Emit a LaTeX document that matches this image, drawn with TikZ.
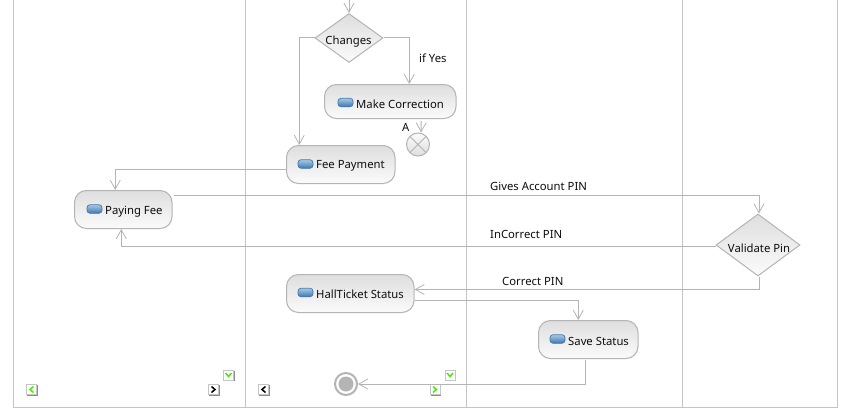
\documentclass[tikz,border=0pt]{standalone}
\usepackage{fontspec}
\setmainfont{Noto Sans}
\usetikzlibrary{arrows.meta,shapes.geometric}
\definecolor{linegray}{HTML}{B4B4B4}
\definecolor{lanegray}{HTML}{C4C4C4}
\definecolor{boxtop}{HTML}{DEDEDE}
\definecolor{boxbot}{HTML}{FBFBFB}
\definecolor{icontop}{HTML}{A9C8E4}
\definecolor{iconbot}{HTML}{3F78AE}
\definecolor{chevgreen}{HTML}{44EE00}
\tikzset{
  every node/.style={font=\fontsize{11.3}{13}\selectfont,text=black!95,inner sep=0pt},
  lane/.style={draw=lanegray,line width=1pt},
  flow/.style={draw=linegray,line width=1pt,-{Straight Barb[length=9pt,width=10pt,line width=.8pt]}},
  action/.style={draw=linegray,line width=1pt,rounded corners=12pt,top color=boxtop,bottom color=boxbot,anchor=north west},
  decision/.style={diamond,aspect=1.36,draw=linegray,line width=1pt,top color=boxtop,bottom color=boxbot,inner sep=0pt},
  icon/.style={rectangle,rounded corners=3pt,draw=iconbot,line width=.7pt,minimum width=15pt,minimum height=8.5pt,top color=icontop,bottom color=iconbot},
  lbl/.style={anchor=west},
  btn/.style={rectangle,draw=lanegray,fill=white,line width=.8pt,minimum size=10pt},
  chev/.style={line width=1.5pt}
}
\newcommand{\btnbox}[4]{%
  \fill[black!45] (#1-4.5,#2-4.5) rectangle (#1+6,#2+6);
  \node[btn] (#3) at (#1,#2) {};
  \draw[chev,#4]}
\begin{document}
\begin{tikzpicture}[x=1pt,y=-1pt]
\useasboundingbox (0,0) rectangle (867,420);
\fill[white] (0,0) rectangle (867,420);
% swimlanes
\draw[lane] (13,0) -- (13,407) -- (837,407) -- (837,0);
\draw[lane] (245,0) -- (245,407);
\draw[lane] (466,0) -- (466,407);
\draw[lane] (682.7,0) -- (682.7,407);
% nav buttons
\btnbox{228.5}{375}{b1}{chevgreen} (225.5,373) -- (228.5,376.5) -- (231.5,373);
\btnbox{31.5}{389.5}{b2}{chevgreen} (33.5,386.5) -- (30,389.5) -- (33.5,392.5);
\btnbox{213.5}{389.5}{b3}{black} (211.5,386.5) -- (215,389.5) -- (211.5,392.5);
\btnbox{263.5}{389.5}{b4}{black} (265.5,386.5) -- (262,389.5) -- (265.5,392.5);
\btnbox{450}{375}{b5}{chevgreen} (447,373) -- (450,376.5) -- (453,373);
\btnbox{435}{389.5}{b6}{chevgreen} (433,386.5) -- (436.5,389.5) -- (433,392.5);
% actions
\node[decision,minimum width=68pt,minimum height=49pt] (chg) at (349,38) {};
\node[action,minimum width=131.5pt,minimum height=34pt] (mc) at (324,84) {};
\node[action,minimum width=108.5pt,minimum height=38pt] (fee) at (286,145) {};
\node[action,minimum width=97.5pt,minimum height=38pt] (pay) at (74,190) {};
\node[decision,minimum width=84pt,minimum height=62pt] (val) at (758,245) {};
\node[action,minimum width=127.5pt,minimum height=38pt] (hall) at (286,274) {};
\node[action,minimum width=99.5pt,minimum height=38pt] (save) at (538,320) {};
\node[icon] (i1) at (345.5,102.5) {};
\node[icon] (i2) at (305.5,164) {};
\node[icon] (i3) at (94.5,209) {};
\node[icon] (i4) at (305.5,292.5) {};
\node[icon] (i5) at (557.5,339) {};
\node (t6) at (348.5,41.5) {Changes};
\node (t7) at (759,248) {Validate Pin};
\node[lbl] (t1) at (356,104) {Make Correction};
\node[lbl] (t2) at (316,165.5) {Fee Payment};
\node[lbl] (t3) at (105,211.5) {Paying Fee};
\node[lbl] (t4) at (316,294) {HallTicket Status};
\node[lbl] (t5) at (568,341) {Save Status};
% flow final
\node[circle,draw=linegray,line width=1pt,top color=boxbot,bottom color=boxtop,minimum size=23pt] (x) at (418,144.5) {};
\draw[linegray,line width=.8pt] (x.north west) -- (x.south east) (x.north east) -- (x.south west);
% end
\node[circle,draw=linegray,line width=2pt,fill=white,minimum size=22pt] (end) at (346,384) {};
\node[circle,fill=linegray,minimum size=15pt] (endin) at (end.center) {};
\coordinate (top) at (349,0);
% connectors
\draw[flow] (top) -- (chg.north);
\draw[flow] (chg.west) -| ([xshift=-41.5pt]fee.north);
\draw[flow] (chg.east) -| ([xshift=19pt]mc.north);
\draw[flow] ([xshift=31pt,yshift=-2pt]mc.south) -- ([xshift=3pt]x.north);
\draw[flow] ([yshift=-5pt]fee.west) -| ([xshift=-8pt]pay.north);
\draw[flow] ([xshift=1pt,yshift=14pt]pay.east) -| ([xshift=1pt]val.north);
\draw[flow] ([yshift=-1pt]val.west) -| ([xshift=-2pt]pay.south);
\draw[flow] ([xshift=1pt]val.south) |- ([yshift=4pt]hall.east);
\draw[flow] ([yshift=-7pt]hall.east) -| ([xshift=-10pt]save.north);
\draw[flow] ([xshift=-3pt,yshift=-1pt]save.south) |- (end.east);
% flow labels
\node[lbl] (l1) at (419,58) {if Yes};
\node[lbl] (l2) at (402,127) {A};
\node[lbl] (l3) at (490,186) {Gives Account PIN};
\node[lbl] (l4) at (490,234) {InCorrect PIN};
\node[lbl] (l5) at (502,281) {Correct PIN};
\end{tikzpicture}
\end{document}
